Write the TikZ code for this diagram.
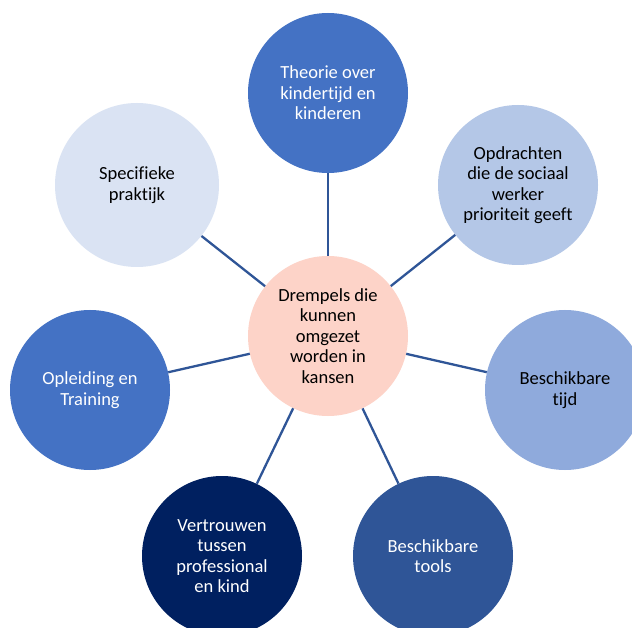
\documentclass[tikz,border=0pt]{standalone}
\usepackage{fontspec}
\setmainfont[Ligatures=NoCommon]{Carlito}
\definecolor{cCenter}{HTML}{FDD3C8}
\definecolor{cDark}{HTML}{4472C4}
\definecolor{cLight}{HTML}{DAE3F3}
\definecolor{cLight2}{HTML}{B4C7E7}
\definecolor{cMid}{HTML}{8FAADC}
\definecolor{cTools}{HTML}{2F5597}
\definecolor{cNavy}{HTML}{002060}
\definecolor{cLine}{HTML}{2F5597}
\begin{document}
\begin{tikzpicture}[x=1pt,y=-1pt,
  bub/.style={circle,minimum size=160pt,inner sep=0pt,align=center,
    font=\fontsize{18.5}{20.5}\selectfont},
  link/.style={draw=cLine,line width=2.3pt}]
\clip (0,0) rectangle (632,628);
\fill[white] (0,0) rectangle (632,628);
\node[bub,fill=cCenter,text=black] (c) at (328,336) {Drempels die\\kunnen\\omgezet\\worden in\\kansen};
\node[bub,fill=cDark,text=white] (t) at (328,93) {Theorie over\\kindertijd en\\kinderen};
\node[bub,fill=cLight2,text=black] (o) at (518,185) {Opdrachten\\die de sociaal\\werker\\prioriteit geeft};
\node[bub,fill=cMid,text=black] (b) at (565,390) {Beschikbare\\tijd};
\node[bub,fill=cTools,text=white] (bt) at (433,556) {Beschikbare\\tools};
\node[bub,fill=cNavy,text=white] (v) at (222,556) {Vertrouwen\\tussen\\professional\\en kind};
\node[bub,fill=cDark,text=white] (op) at (90,390) {Opleiding en\\Training};
\node[bub,fill=cLight,text=black,minimum size=164pt] (s) at (137,185) {Specifieke\\praktijk};
\foreach \n in {t,o,b,bt,v,op,s} \draw[link] (c) -- (\n);
\end{tikzpicture}
\end{document}
